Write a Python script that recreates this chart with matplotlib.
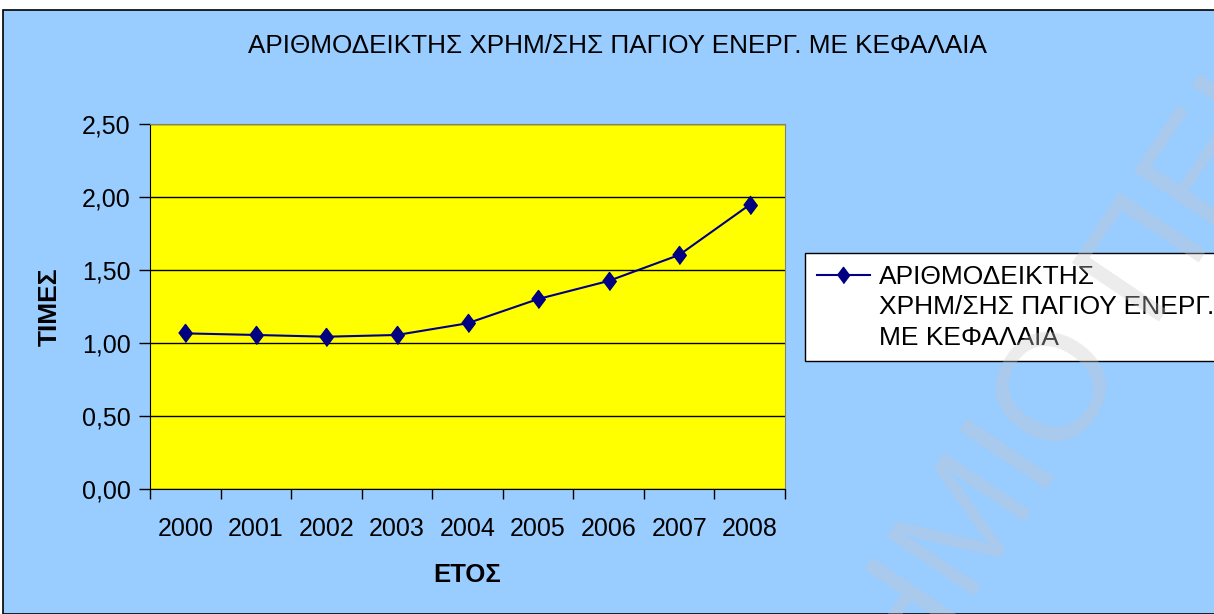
import matplotlib.pyplot as plt
from matplotlib.patches import Rectangle
from matplotlib.ticker import FixedLocator

plt.rcParams['font.family'] = ['Liberation Sans', 'DejaVu Sans']

years = ['2000', '2001', '2002', '2003', '2004', '2005', '2006', '2007', '2008']
values = [1.066, 1.055, 1.043, 1.055, 1.135, 1.301, 1.425, 1.603, 1.947]
series_lines = ['ΑΡΙΘΜΟΔΕΙΚΤΗΣ', 'ΧΡΗΜ/ΣΗΣ ΠΑΓΙΟΥ ΕΝΕΡΓ.', 'ΜΕ ΚΕΦΑΛΑΙΑ']
title = 'ΑΡΙΘΜΟΔΕΙΚΤΗΣ ΧΡΗΜ/ΣΗΣ ΠΑΓΙΟΥ ΕΝΕΡΓ. ΜΕ ΚΕΦΑΛΑΙΑ'

W, H = 1214, 614
fig = plt.figure(figsize=(W / 100, H / 100), dpi=100, facecolor='white')

# chart area background with border
fig.patches.append(Rectangle((3 / W, 0), 1.0, 1 - 10 / H, transform=fig.transFigure,
                             facecolor='#99ccff', edgecolor='black', lw=1.2, zorder=-5))

ax = fig.add_axes([150 / W, 1 - 489 / H, (785 - 150) / W, (489 - 124) / H])
ax.set_facecolor('#ffff00')

diamond = [(-0.75, 0), (0, 1), (0.75, 0), (0, -1)]  # excel style, a bit taller than wide
x = range(len(years))
ax.plot(x, values, color='#000080', lw=1.5, marker=diamond, ms=13, label=series_lines[0], zorder=3)
# legend label wraps onto more lines, handle stays on the first one
for extra in series_lines[1:]:
    ax.plot([], [], color='none', label=extra)

ax.set_xlim(-0.5, len(years) - 0.5)
ax.set_ylim(0, 2.5)
yt = [0, 0.5, 1.0, 1.5, 2.0, 2.5]
ax.set_yticks(yt)
ax.set_yticklabels([f'{v:.2f}'.replace('.', ',') for v in yt], fontsize=18)
ax.set_xticks(list(x))
ax.set_xticklabels(years, fontsize=18)
ax.xaxis.set_minor_locator(FixedLocator([i - 0.5 for i in range(len(years) + 1)]))
ax.tick_params(axis='x', which='major', length=0, pad=20)
ax.tick_params(axis='x', which='minor', length=7, direction='out', width=1)
ax.tick_params(axis='y', length=8, direction='out', width=1, pad=6)
ax.grid(axis='y', color='black', lw=1)
ax.set_axisbelow(True)
for s in ['top', 'right']:
    ax.spines[s].set_color('#808080')
for s in ['left', 'bottom']:
    ax.spines[s].set_color('black')

ax.set_xlabel('ΕΤΟΣ', fontsize=18.5, fontweight='bold', labelpad=16)
ax.set_ylabel('ΤΙΜΕΣ', fontsize=19, fontweight='bold', labelpad=14)

fig.text(617 / W, 1 - 46 / H, title, ha='center', va='center', fontsize=18.8)

leg = ax.legend(loc='upper left', bbox_to_anchor=(805 / W, 1 - 253 / H), bbox_transform=fig.transFigure,
                fontsize=19, frameon=True, fancybox=False, handlelength=2.0, borderpad=0.45,
                labelspacing=0.24, handletextpad=0.35, borderaxespad=0, markerscale=0.9)
leg.get_frame().set_edgecolor('black')
leg.get_frame().set_linewidth(1)
leg.get_frame().set_facecolor('white')
leg.get_frame().set_alpha(1)

# faint document watermark
fig.text(978 / W, 1 - 520 / H, 'ΠΑΝΕΠΙΣΤΗΜΙΟ ΠΕΙΡΑΙΩΣ', rotation=56, ha='center', va='center',
         fontsize=110, color='#c8c8c8', alpha=0.35, zorder=10)

fig.savefig('out.png', dpi=100)
